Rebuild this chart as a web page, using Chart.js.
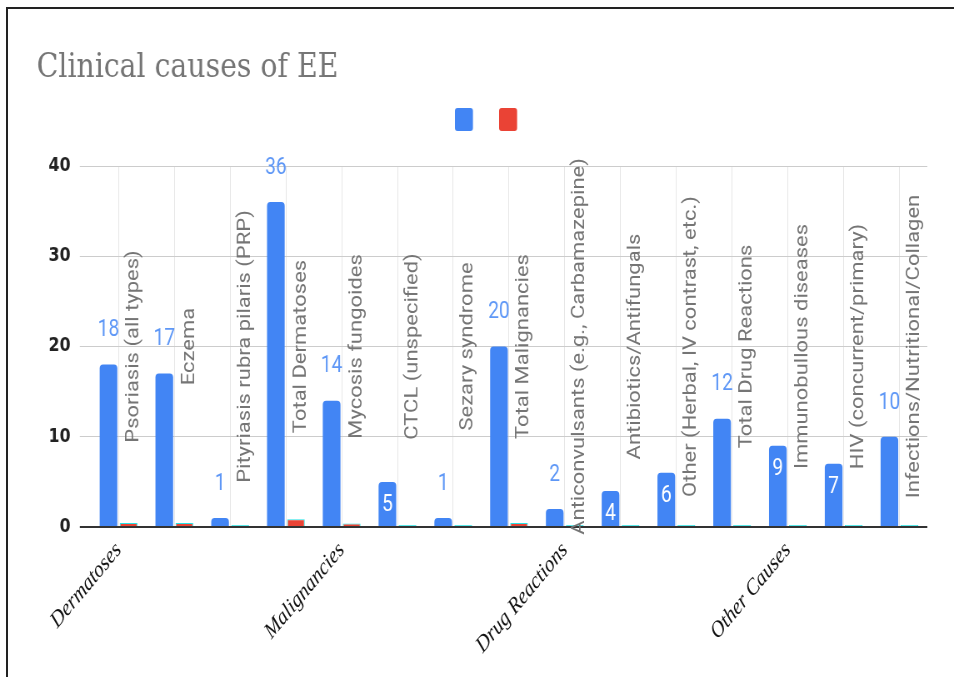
<!DOCTYPE html>
<html>
<head>
<meta charset="utf-8">
<title>Clinical causes of EE</title>
<script src="https://cdn.jsdelivr.net/npm/chart.js@4.4.1/dist/chart.umd.min.js"></script>
<style>
	html, body { margin: 0; padding: 0; background: #fff; }
	#wrap { position: relative; width: 954px; height: 677px; overflow: hidden; }
	#chart { position: absolute; left: 0; top: 0; }
	#frame { position: absolute; left: 6px; top: 7px; right: 0; bottom: 0; border-top: 2px solid #222; border-left: 2px solid #222; pointer-events: none; }
</style>
</head>
<body>
<div id="wrap">
	<canvas id="chart" width="1145" height="677" style="width:954px;height:677px"></canvas>
	<div id="frame"></div>
</div>
<script>
var chartTitle = 'Clinical causes of EE';

var causes = [
	'Psoriasis (all types)', 'Eczema', 'Pityriasis rubra pilaris (PRP)', 'Total Dermatoses',
	'Mycosis fungoides', 'CTCL (unspecified)', 'Sezary syndrome', 'Total Malignancies',
	'Anticonvulsants (e.g., Carbamazepine)', 'Antibiotics/Antifungals', 'Other (Herbal, IV contrast, etc.)', 'Total Drug Reactions',
	'Immunobullous diseases', 'HIV (concurrent/primary)', 'Infections/Nutritional/Collagen'
];

// group names shown on the x axis, one per group
var groups = [
	'Dermatoses', '', '', '',
	'Malignancies', '', '', '',
	'Drug Reactions', '', '', '',
	'Other Causes', '', ''
];

var caseCounts = [18, 17, 1, 36, 14, 5, 1, 20, 2, 4, 6, 12, 9, 7, 10];
var secondSeries = [0.45, 0.45, 0, 0.85, 0.4, 0, 0, 0.45, 0, 0, 0, 0, 0, 0, 0];

var yTicks = [0, 10, 20, 30, 40];

var blue = '#4285f4';
var red = '#ea4335';
var cyan = '#27e3e6';

var Resketch = {

	init: function(){
		var ctx = document.getElementById('chart').getContext('2d');
		window.myBar = new Chart(ctx, {
			type: 'bar',
			data: {
				labels: causes,
				datasets: [{
					label: '',
					data: caseCounts,
					backgroundColor: blue,
					borderRadius: 4,
					borderSkipped: 'start'
				}, {
					label: '',
					data: secondSeries,
					backgroundColor: function(c){ return c.raw > 0 ? red : cyan; },
					borderColor: cyan,
					borderWidth: 1,
					borderSkipped: 'start',
					minBarLength: 2
				}]
			},
			options: {
				responsive: false,
				animation: false,
				devicePixelRatio: 1,
				layout: { padding: { top: 166, left: 0, right: 32, bottom: 0 } },
				datasets: { bar: { categoryPercentage: 0.72, barPercentage: 0.88 } },
				plugins: {
					legend: { display: false },
					title: { display: false },
					tooltip: { enabled: false }
				},
				scales: {
					x: {
						offset: true,
						grid: { offset: false, color: '#e6e6e6', drawTicks: false },
						border: { display: false },
						ticks: {
							autoSkip: false,
							minRotation: 45,
							maxRotation: 45,
							padding: 10,
							color: '#111',
							font: { family: 'Liberation Serif', style: 'italic', size: 23 },
							callback: function(v, i){ return groups[i]; }
						},
						afterFit: function(scale){ scale.height = 150; }
					},
					y: {
						min: 0,
						max: 40,
						afterBuildTicks: function(scale){
							scale.ticks = yTicks.map(function(v){ return { value: v }; });
						},
						grid: {
							color: function(c){ return c.tick && c.tick.value === 0 ? '#333' : '#cccccc'; },
							lineWidth: function(c){ return c.tick && c.tick.value === 0 ? 2 : 1; },
							tickLength: 13
						},
						border: { display: false },
						ticks: {
							padding: 11,
							color: '#222',
							font: { family: 'DejaVu Sans', weight: 'bold', size: 19 }
						},
						afterFit: function(scale){ scale.width = 108.8; }
					}
				}
			},
			plugins: [Resketch.labelsPlugin, Resketch.headerPlugin]
		});
	},

	// value labels on the blue bars and the rotated cause names
	labelsPlugin: {
		id: 'causeLabels',
		afterDatasetsDraw: function(chart){
			var ctx = chart.ctx;
			var area = chart.chartArea;
			var xs = chart.scales.x;
			var meta = chart.getDatasetMeta(0);
			ctx.save();
			ctx.textAlign = 'center';
			ctx.textBaseline = 'middle';
			ctx.font = '23px Roboto';
			meta.data.forEach(function(bar, i){
				var v = caseCounts[i];
				var inside = v >= 3 && v < 10;
				ctx.fillStyle = inside ? '#ffffff' : '#5e97f6';
				ctx.fillText(String(v), bar.x, inside ? bar.y + 23 : bar.y - 34);
			});
			ctx.font = '22px Roboto';
			ctx.fillStyle = '#757575';
			var midY = (area.top + area.bottom) / 2;
			causes.forEach(function(name, i){
				ctx.save();
				ctx.translate(xs.getPixelForValue(i) + 18, midY);
				ctx.rotate(-Math.PI / 2);
				ctx.fillText(name, 0, 0);
				ctx.restore();
			});
			ctx.restore();
		}
	},

	// title and the legend boxes (no legend text in the original)
	headerPlugin: {
		id: 'header',
		afterDraw: function(chart){
			var ctx = chart.ctx;
			ctx.save();
			ctx.font = '34px "DejaVu Serif"';
			ctx.fillStyle = '#757575';
			ctx.textBaseline = 'alphabetic';
			ctx.textAlign = 'left';
			ctx.fillText(chartTitle, 44, 77);
			var colors = [blue, red];
			colors.forEach(function(col, i){
				ctx.fillStyle = col;
				ctx.beginPath();
				ctx.roundRect(546 + i * 53, 108, 21.6, 23, 3);
				ctx.fill();
			});
			ctx.restore();
		}
	}
};

Resketch.init();
</script>
</body>
</html>
